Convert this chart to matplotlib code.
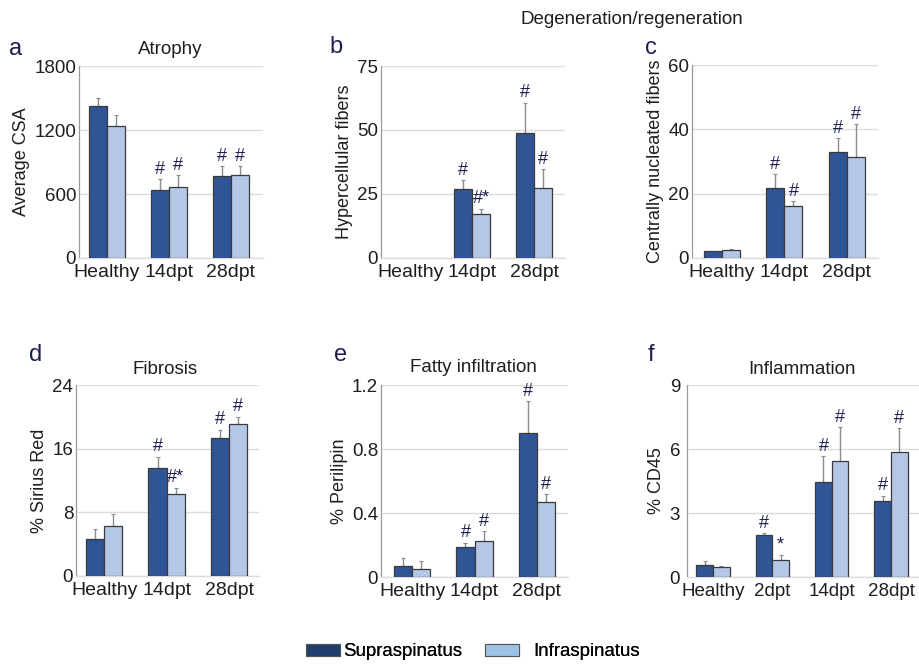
import matplotlib
matplotlib.use("Agg")
import matplotlib.pyplot as plt
import numpy as np
from matplotlib.patches import Patch

plt.rcParams['font.family'] = ['Liberation Sans', 'DejaVu Sans']

W, H = 919, 666

# ---------------- data ----------------
cats3 = ["Healthy", "14dpt", "28dpt"]
cats4 = ["Healthy", "2dpt", "14dpt", "28dpt"]

# a: Atrophy
a_sup = [1422, 640, 769]
a_sup_err = [75, 98, 93]
a_inf = [1237, 663, 775]
a_inf_err = [103, 112, 87]
a_sup_mark = ["", "#", "#"]
a_inf_mark = ["", "#", "#"]

# b: Hypercellular fibers
b_sup = [0, 27.0, 48.7]
b_sup_err = [0, 3.4, 12.0]
b_inf = [0, 17.0, 27.5]
b_inf_err = [0, 2.3, 7.3]
b_sup_mark = ["", "#", "#"]
b_inf_mark = ["", "#*", "#"]

# c: Centrally nucleated fibers
c_sup = [2.1, 21.9, 33.0]
c_sup_err = [0.2, 4.2, 4.2]
c_inf = [2.4, 16.2, 31.5]
c_inf_err = [0.3, 1.5, 10.1]
c_sup_mark = ["", "#", "#"]
c_inf_mark = ["", "#", "#"]

# d: Fibrosis
d_sup = [4.7, 13.6, 17.4]
d_sup_err = [1.2, 1.4, 1.0]
d_inf = [6.3, 10.3, 19.1]
d_inf_err = [1.5, 0.8, 0.9]
d_sup_mark = ["", "#", "#"]
d_inf_mark = ["", "#*", "#"]

# e: Fatty infiltration
e_sup = [0.069, 0.186, 0.898]
e_sup_err = [0.050, 0.029, 0.20]
e_inf = [0.050, 0.223, 0.468]
e_inf_err = [0.050, 0.063, 0.048]
e_sup_mark = ["", "#", "#"]
e_inf_mark = ["", "#", "#"]

# f: Inflammation
f_sup = [0.58, 1.95, 4.45, 3.57]
f_sup_err = [0.17, 0.11, 1.20, 0.25]
f_inf = [0.48, 0.78, 5.44, 5.85]
f_inf_err = [0.05, 0.27, 1.58, 1.12]
f_sup_mark = ["", "#", "#", "#"]
f_inf_mark = ["", "*", "#", "#"]

series_names = ["Supraspinatus", "Infraspinatus"]

# ---------------- style ----------------
DARK = "#2f5597"
LIGHT = "#b4c7e7"
LEG_DARK = "#1f3f6e"
LEG_LIGHT = "#9dc3e6"
EDGE = "#3a3a3a"
NAVY = "#1b1f4e"
TXT = "#1e1e1e"

fig = plt.figure(figsize=(W / 100, H / 100), dpi=100)


def add_ax(x0, y0, x1, y1):
    return fig.add_axes([x0 / W, 1 - y1 / H, (x1 - x0) / W, (y1 - y0) / H])


def panel(ax, cats, sup, sup_err, inf, inf_err, sup_mark, inf_mark,
          ymax, yticks, yticklabels, ylabel, xlim, bw=0.29, xfs=14, ypad=2):
    x = np.arange(len(cats))
    for xs, vals, errs, marks, col in [(x - bw / 2, sup, sup_err, sup_mark, DARK),
                                       (x + bw / 2, inf, inf_err, inf_mark, LIGHT)]:
        for xi, v, e, m in zip(xs, vals, errs, marks):
            if v <= 0:
                continue
            ax.bar(xi, v, width=bw, color=col, edgecolor=EDGE, linewidth=0.9, zorder=3)
            ax.errorbar(xi, v, yerr=[[0], [e]], fmt='none', ecolor="#8c8c8c",
                        elinewidth=1.0, capsize=1.5, capthick=0.8, zorder=2)
            if m:
                ax.annotate(m, (xi, v + e), xytext=(0, 1), textcoords='offset points',
                            ha='center', va='bottom', fontsize=13, color=NAVY, zorder=4)
    ax.set_ylim(0, ymax)
    ax.set_xlim(*xlim)
    ax.set_yticks(yticks)
    ax.set_yticklabels(yticklabels, fontsize=13.5, color=TXT)
    ax.set_xticks(x)
    ax.set_xticklabels(cats, fontsize=xfs, color=TXT)
    ax.tick_params(length=0)
    ax.tick_params(axis='x', pad=4)
    ax.tick_params(axis='y', pad=ypad)
    ax.grid(axis='y', color="#dcdcdc", linewidth=1.0, zorder=0)
    ax.set_axisbelow(True)
    for s in ["top", "right"]:
        ax.spines[s].set_visible(False)
    ax.spines["left"].set_color("#9a9a9a")
    ax.spines["left"].set_linewidth(0.9)
    ax.spines["bottom"].set_color("#dcdcdc")
    ax.spines["bottom"].set_linewidth(1.0)
    ax.set_ylabel(ylabel, fontsize=13, color=TXT, labelpad=3)


axa = add_ax(79, 66, 263, 258)
panel(axa, cats3, a_sup, a_sup_err, a_inf, a_inf_err, a_sup_mark, a_inf_mark,
      1800, [0, 600, 1200, 1800], ["0", "600", "1200", "1800"], "Average CSA", (-0.45, 2.52))
axb = add_ax(381, 66, 565, 258)
panel(axb, cats3, b_sup, b_sup_err, b_inf, b_inf_err, b_sup_mark, b_inf_mark,
      75, [0, 25, 50, 75], ["0", "25", "50", "75"], "Hypercellular fibers", (-0.47, 2.5))
axc = add_ax(692, 65, 878, 258)
panel(axc, cats3, c_sup, c_sup_err, c_inf, c_inf_err, c_sup_mark, c_inf_mark,
      60, [0, 20, 40, 60], ["0", "20", "40", "60"], "Centrally nucleated fibers", (-0.48, 2.5))
axd = add_ax(76, 385, 259, 576)
panel(axd, cats3, d_sup, d_sup_err, d_inf, d_inf_err, d_sup_mark, d_inf_mark,
      24, [0, 8, 16, 24], ["0", "8", "16", "24"], "% Sirius Red", (-0.45, 2.48))
axe = add_ax(381, 385, 568, 577)
panel(axe, cats3, e_sup, e_sup_err, e_inf, e_inf_err, e_sup_mark, e_inf_mark,
      1.2, [0, 0.4, 0.8, 1.2], ["0", "0.4", "0.8", "1.2"], "% Perilipin", (-0.5, 2.5))
axf = add_ax(687, 385, 919, 577)
panel(axf, cats4, f_sup, f_sup_err, f_inf, f_inf_err, f_sup_mark, f_inf_mark,
      9, [0, 3, 6, 9], ["0", "3", "6", "9"], "% CD45", (-0.44, 3.47), bw=0.28,
      xfs=13.5, ypad=5)

# titles
TS = 13.5
fig.text(170 / W, 1 - 50 / H, "Atrophy", ha='center', va='center', fontsize=TS, color=TXT)
fig.text(632 / W, 1 - 19 / H, "Degeneration/regeneration", ha='center', va='center', fontsize=TS, color=TXT)
fig.text(165 / W, 1 - 370 / H, "Fibrosis", ha='center', va='center', fontsize=TS, color=TXT)
fig.text(473 / W, 1 - 368 / H, "Fatty infiltration", ha='center', va='center', fontsize=TS, color=TXT)
fig.text(802 / W, 1 - 370 / H, "Inflammation", ha='center', va='center', fontsize=TS, color=TXT)

# panel letters
for lt, px, py in [("a", 16, 49), ("b", 336, 47), ("c", 651, 48),
                   ("d", 36, 355), ("e", 341, 355), ("f", 651, 355)]:
    fig.text(px / W, 1 - py / H, lt, ha='center', va='center', fontsize=17, color=NAVY)

# legend (two entries placed individually)
leg_y = 1 - 652 / H
for name, col, lx, pad in [(series_names[0], LEG_DARK, 306, 0.2),
                           (series_names[1], LEG_LIGHT, 485, 0.8)]:
    lg = fig.legend([Patch(facecolor=col, edgecolor="#555555", linewidth=0.8)], [name],
                    loc='center left', bbox_to_anchor=(lx / W, leg_y), frameon=False,
                    fontsize=13.4, handlelength=1.8, handleheight=0.6,
                    handletextpad=pad, borderpad=0, borderaxespad=0)
    fig.add_artist(lg)

fig.savefig("out.png", dpi=100)
